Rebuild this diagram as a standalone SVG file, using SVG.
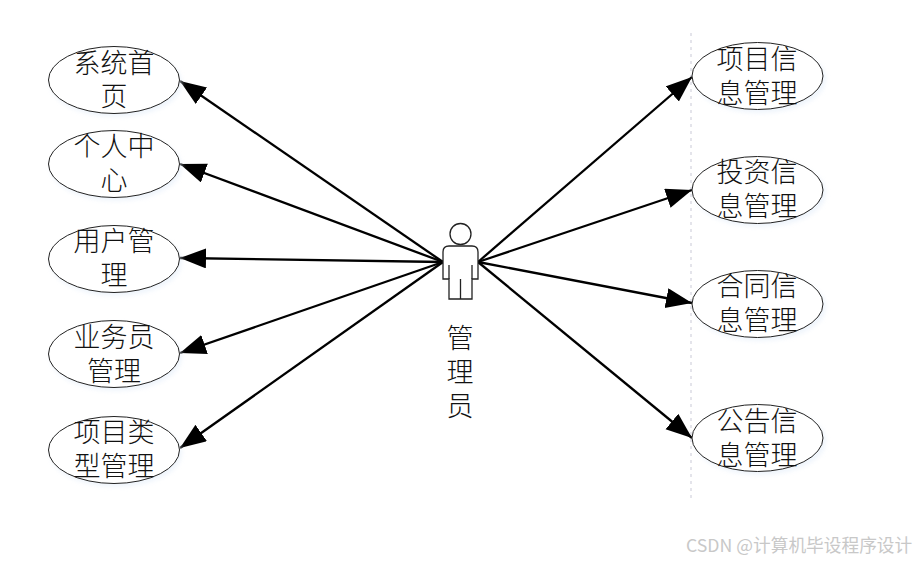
<svg xmlns="http://www.w3.org/2000/svg" width="916" height="562" viewBox="0 0 916 562">
<defs>
<style>
.e{fill:#fff;stroke:#222;stroke-width:1}
.s{fill:#e3edf9;opacity:.55}
.t{font-family:"Noto Sans CJK SC","Noto Sans CJK JP",serif;font-size:27px;fill:#111;text-anchor:middle;font-weight:300}
.c{fill:none;stroke:#000;stroke-width:2.3}
.d{fill:none;stroke:#c9c9d6;stroke-width:1;stroke-dasharray:3 4}
.a{fill:#fff;stroke:#222;stroke-width:1.3}
.w{font-family:"Noto Sans CJK SC","Liberation Sans",sans-serif;font-size:17.700px;fill:#c8c8c8}
</style>
<filter id="b" x="-20%" y="-20%" width="140%" height="140%"><feGaussianBlur stdDeviation="2"/></filter>
<marker id="h" markerUnits="userSpaceOnUse" markerWidth="28" markerHeight="22" refX="26" refY="10" orient="auto"><path d="M0 0L26 10L0 20Z" fill="#000"/></marker>
</defs>
<rect width="916" height="562" fill="#fff"/>
<path class="d" d="M691 33V498"/>
<g id="connectors">
<path class="c" marker-end="url(#h)" d="M443 262L180 81"/>
<path class="c" marker-end="url(#h)" d="M443 262L180 164"/>
<path class="c" marker-end="url(#h)" d="M443 262L180 258"/>
<path class="c" marker-end="url(#h)" d="M443 262L180 353"/>
<path class="c" marker-end="url(#h)" d="M443 262L180 448"/>
<path class="c" marker-end="url(#h)" d="M478 262L692 77"/>
<path class="c" marker-end="url(#h)" d="M478 262L692 190"/>
<path class="c" marker-end="url(#h)" d="M478 262L692 303"/>
<path class="c" marker-end="url(#h)" d="M478 262L692 438"/>
</g>
<g id="n1"><ellipse class="s" filter="url(#b)" cx="116" cy="83" rx="66" ry="34"/><ellipse class="e" cx="114" cy="80" rx="65.500" ry="33.500"/><text class="t" y="73"><tspan x="114">系统首</tspan><tspan x="114" dy="33">页</tspan></text></g>
<g id="n2"><ellipse class="s" filter="url(#b)" cx="116" cy="167" rx="66" ry="34"/><ellipse class="e" cx="114" cy="164" rx="65.500" ry="33.500"/><text class="t" y="156"><tspan x="114">个人中</tspan><tspan x="114" dy="34">心</tspan></text></g>
<g id="n3"><ellipse class="s" filter="url(#b)" cx="116" cy="262" rx="66" ry="34"/><ellipse class="e" cx="114" cy="259" rx="65.500" ry="33.500"/><text class="t" y="251"><tspan x="114">用户管</tspan><tspan x="114" dy="34">理</tspan></text></g>
<g id="n4"><ellipse class="s" filter="url(#b)" cx="116" cy="357" rx="66" ry="34"/><ellipse class="e" cx="114" cy="354" rx="65.500" ry="33.500"/><text class="t" y="347"><tspan x="114">业务员</tspan><tspan x="114" dy="34">管理</tspan></text></g>
<g id="n5"><ellipse class="s" filter="url(#b)" cx="116" cy="453" rx="66" ry="34"/><ellipse class="e" cx="114" cy="450" rx="65.500" ry="33.500"/><text class="t" y="442"><tspan x="114">项目类</tspan><tspan x="114" dy="33.500">型管理</tspan></text></g>
<g id="n6"><ellipse class="s" filter="url(#b)" cx="760" cy="79" rx="66" ry="34"/><ellipse class="e" cx="757.500" cy="76" rx="65.500" ry="33.500"/><text class="t" y="69"><tspan x="757">项目信</tspan><tspan x="757" dy="34">息管理</tspan></text></g>
<g id="n7"><ellipse class="s" filter="url(#b)" cx="760" cy="193" rx="66" ry="34"/><ellipse class="e" cx="757.500" cy="190" rx="65.500" ry="33.500"/><text class="t" y="182"><tspan x="757">投资信</tspan><tspan x="757" dy="34">息管理</tspan></text></g>
<g id="n8"><ellipse class="s" filter="url(#b)" cx="760" cy="307" rx="66" ry="34"/><ellipse class="e" cx="757.500" cy="304" rx="65.500" ry="33.500"/><text class="t" y="296"><tspan x="757">合同信</tspan><tspan x="757" dy="34">息管理</tspan></text></g>
<g id="n9"><ellipse class="s" filter="url(#b)" cx="760" cy="441" rx="66" ry="34"/><ellipse class="e" cx="757.500" cy="438" rx="65.500" ry="33.500"/><text class="t" y="431"><tspan x="757">公告信</tspan><tspan x="757" dy="34">息管理</tspan></text></g>
<g id="actor">
<circle class="a" cx="460.500" cy="234" r="10.500"/>
<path class="a" d="M449 246H472Q478 246 478 252V279H472V299H449V279H443V252Q443 246 449 246Z"/>
<path class="a" d="M449 265V279M472 265V279M460.500 279V299"/>
<text class="t" y="348"><tspan x="460">管</tspan><tspan x="460" dy="34">理</tspan><tspan x="460" dy="34">员</tspan></text>
</g>
<text class="w" x="686" y="552">CSDN @计算机毕设程序设计</text>
</svg>
